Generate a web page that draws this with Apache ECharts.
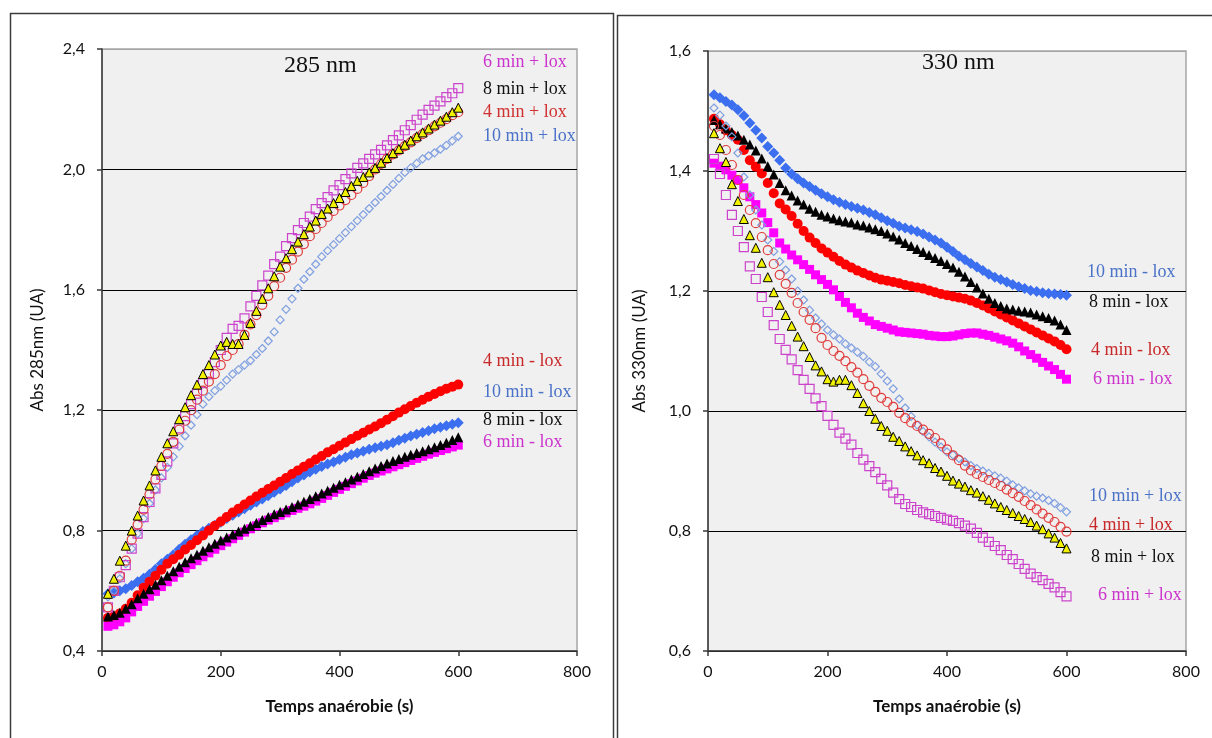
<!DOCTYPE html>
<html>
<head>
<meta charset="utf-8">
<script src="https://cdn.jsdelivr.net/npm/echarts@6/dist/echarts.min.js"></script>
<style>
html,body{margin:0;padding:0;background:#fff;}
#c{width:1212px;height:738px;}
</style>
</head>
<body>
<div id="c"></div>
<script>
// Time (s)
const times = [10,20,30,40,50,60,70,80,90,100,110,120,130,140,150,160,170,180,190,200,
  210,220,230,240,250,260,270,280,290,300,310,320,330,340,350,360,370,380,390,400,
  410,420,430,440,450,460,470,480,490,500,510,520,530,540,550,560,570,580,590,600];

const xTicks = [0,200,400,600,800];
const yTicksLeft = [0.4,0.8,1.2,1.6,2.0,2.4];
const yTicksRight = [0.6,0.8,1.0,1.2,1.4,1.6];

// ---- 285 nm panel ----
const L_plus6 = [0.545,0.60,0.645,0.685,0.74,0.79,0.845,0.895,0.94,0.985,
  1.03,1.09,1.14,1.18,1.22,1.255,1.29,1.32,1.36,1.40,
  1.44,1.47,1.48,1.505,1.545,1.58,1.615,1.647,1.685,1.71,
  1.745,1.772,1.798,1.822,1.843,1.868,1.888,1.908,1.93,1.948,
  1.968,1.987,2.005,2.02,2.035,2.05,2.065,2.08,2.097,2.113,
  2.13,2.147,2.165,2.182,2.198,2.212,2.226,2.24,2.253,2.27];
const L_plus8 = [0.59,0.64,0.70,0.75,0.80,0.85,0.90,0.95,1.00,1.045,
  1.09,1.13,1.17,1.21,1.25,1.285,1.32,1.35,1.385,1.415,
  1.427,1.42,1.42,1.45,1.49,1.53,1.57,1.605,1.645,1.677,
  1.705,1.735,1.76,1.785,1.81,1.83,1.852,1.87,1.888,1.905,
  1.925,1.945,1.962,1.975,1.99,2.005,2.022,2.038,2.054,2.068,
  2.082,2.096,2.11,2.123,2.136,2.149,2.162,2.175,2.19,2.205];
const L_plus4 = [0.545,0.60,0.65,0.70,0.77,0.82,0.87,0.92,0.97,1.015,
  1.055,1.095,1.135,1.165,1.20,1.235,1.265,1.295,1.32,1.35,
  1.38,1.40,1.42,1.45,1.485,1.516,1.55,1.58,1.612,1.64,
  1.673,1.70,1.727,1.752,1.778,1.802,1.822,1.842,1.862,1.88,
  1.898,1.915,1.935,1.955,1.978,2.0,2.018,2.035,2.05,2.063,
  2.077,2.09,2.104,2.117,2.13,2.143,2.155,2.167,2.18,2.19];
const L_plus10 = [0.58,0.60,0.64,0.69,0.74,0.79,0.84,0.89,0.935,0.975,
  1.01,1.045,1.08,1.115,1.15,1.185,1.22,1.245,1.265,1.28,
  1.30,1.32,1.335,1.35,1.365,1.385,1.405,1.43,1.46,1.50,
  1.535,1.57,1.605,1.635,1.66,1.685,1.71,1.73,1.75,1.77,
  1.79,1.81,1.83,1.85,1.87,1.89,1.91,1.93,1.95,1.97,
  1.99,2.005,2.02,2.035,2.045,2.055,2.067,2.08,2.095,2.11];
const L_minus4 = [0.51,0.515,0.525,0.54,0.56,0.585,0.61,0.63,0.65,0.67,
  0.69,0.705,0.72,0.737,0.752,0.768,0.784,0.80,0.816,0.83,
  0.845,0.86,0.873,0.887,0.90,0.913,0.926,0.938,0.95,0.962,
  0.975,0.988,1.0,1.012,1.024,1.036,1.048,1.06,1.07,1.082,
  1.093,1.104,1.115,1.125,1.136,1.146,1.157,1.168,1.18,1.192,
  1.203,1.214,1.225,1.235,1.245,1.254,1.263,1.271,1.278,1.285];
const L_minus10 = [0.59,0.593,0.60,0.607,0.618,0.63,0.642,0.655,0.672,0.69,
  0.705,0.72,0.738,0.755,0.77,0.784,0.797,0.808,0.818,0.828,
  0.84,0.851,0.862,0.873,0.884,0.895,0.905,0.916,0.927,0.938,
  0.95,0.962,0.975,0.985,0.995,1.004,1.013,1.021,1.028,1.036,
  1.044,1.052,1.058,1.064,1.07,1.075,1.08,1.085,1.092,1.10,
  1.107,1.114,1.12,1.126,1.132,1.138,1.143,1.148,1.153,1.158];
const L_minus8 = [0.515,0.52,0.527,0.54,0.555,0.575,0.59,0.605,0.62,0.635,
  0.65,0.665,0.68,0.695,0.708,0.72,0.733,0.745,0.756,0.767,
  0.777,0.787,0.797,0.806,0.815,0.825,0.835,0.845,0.854,0.862,
  0.87,0.878,0.887,0.896,0.905,0.914,0.923,0.932,0.942,0.952,
  0.961,0.97,0.979,0.988,0.997,1.006,1.015,1.023,1.031,1.038,
  1.045,1.052,1.058,1.064,1.07,1.077,1.084,1.092,1.101,1.11];
const L_minus6 = [0.482,0.487,0.497,0.51,0.53,0.548,0.565,0.582,0.598,0.614,
  0.63,0.645,0.66,0.674,0.687,0.70,0.713,0.726,0.738,0.75,
  0.762,0.773,0.784,0.795,0.806,0.816,0.826,0.835,0.843,0.851,
  0.859,0.867,0.874,0.881,0.889,0.898,0.907,0.917,0.927,0.937,
  0.947,0.956,0.965,0.974,0.983,0.991,0.998,1.005,1.012,1.019,
  1.026,1.033,1.04,1.047,1.054,1.06,1.066,1.072,1.078,1.084];

// ---- 330 nm panel ----
const R_minus10 = [1.527,1.522,1.516,1.51,1.502,1.492,1.48,1.468,1.455,1.441,
  1.43,1.418,1.405,1.395,1.387,1.38,1.374,1.368,1.362,1.357,
  1.352,1.348,1.344,1.341,1.338,1.335,1.331,1.327,1.322,1.317,
  1.313,1.308,1.305,1.302,1.299,1.295,1.29,1.285,1.28,1.273,
  1.266,1.258,1.252,1.246,1.24,1.234,1.228,1.223,1.219,1.215,
  1.211,1.207,1.204,1.201,1.199,1.197,1.196,1.195,1.194,1.193];
const R_minus8 = [1.485,1.478,1.471,1.465,1.459,1.452,1.444,1.434,1.421,1.408,
  1.394,1.38,1.368,1.359,1.351,1.344,1.337,1.332,1.327,1.324,
  1.321,1.318,1.316,1.314,1.311,1.309,1.306,1.303,1.30,1.296,
  1.291,1.286,1.28,1.275,1.27,1.265,1.26,1.255,1.25,1.245,
  1.239,1.232,1.224,1.215,1.206,1.196,1.187,1.18,1.175,1.171,
  1.169,1.167,1.166,1.164,1.161,1.158,1.155,1.151,1.144,1.135];
const R_minus4 = [1.487,1.478,1.468,1.46,1.452,1.435,1.418,1.407,1.396,1.38,
  1.363,1.346,1.336,1.325,1.312,1.30,1.289,1.28,1.271,1.264,
  1.257,1.25,1.244,1.239,1.234,1.23,1.226,1.222,1.219,1.217,
  1.215,1.213,1.21,1.208,1.206,1.204,1.201,1.198,1.195,1.193,
  1.191,1.189,1.187,1.184,1.18,1.176,1.171,1.166,1.161,1.156,
  1.151,1.146,1.141,1.136,1.131,1.126,1.121,1.116,1.11,1.103];
const R_minus6 = [1.413,1.408,1.402,1.393,1.385,1.372,1.357,1.344,1.33,1.314,
  1.297,1.28,1.27,1.26,1.252,1.244,1.236,1.227,1.219,1.211,
  1.202,1.191,1.181,1.172,1.163,1.156,1.15,1.144,1.141,1.138,
  1.135,1.132,1.131,1.13,1.129,1.128,1.126,1.125,1.124,1.124,
  1.125,1.127,1.129,1.13,1.13,1.128,1.126,1.123,1.12,1.117,
  1.113,1.107,1.10,1.094,1.088,1.081,1.075,1.069,1.061,1.053];
const R_plus10 = [1.505,1.493,1.475,1.457,1.43,1.39,1.36,1.335,1.31,1.285,
  1.266,1.249,1.235,1.22,1.20,1.185,1.168,1.155,1.145,1.135,
  1.127,1.12,1.112,1.105,1.098,1.091,1.082,1.074,1.062,1.05,
  1.037,1.02,1.005,0.991,0.977,0.966,0.957,0.948,0.94,0.932,
  0.927,0.921,0.915,0.909,0.904,0.90,0.896,0.892,0.888,0.883,
  0.877,0.872,0.867,0.862,0.858,0.855,0.851,0.846,0.839,0.832];
const R_plus4 = [1.475,1.46,1.435,1.41,1.385,1.36,1.335,1.313,1.29,1.268,
  1.245,1.227,1.212,1.197,1.18,1.165,1.152,1.138,1.122,1.11,
  1.10,1.092,1.083,1.073,1.064,1.053,1.042,1.032,1.022,1.015,
  1.007,0.997,0.988,0.981,0.975,0.969,0.962,0.955,0.946,0.936,
  0.926,0.918,0.909,0.901,0.895,0.89,0.885,0.88,0.875,0.869,
  0.863,0.857,0.85,0.843,0.836,0.829,0.822,0.815,0.807,0.799];
const R_plus8 = [1.463,1.438,1.415,1.378,1.35,1.32,1.293,1.272,1.247,1.223,
  1.198,1.177,1.16,1.142,1.124,1.108,1.09,1.076,1.066,1.053,
  1.049,1.052,1.052,1.043,1.03,1.013,1.0,0.987,0.975,0.967,
  0.957,0.95,0.941,0.933,0.926,0.918,0.913,0.905,0.899,0.892,
  0.884,0.879,0.874,0.868,0.864,0.858,0.852,0.846,0.84,0.835,
  0.83,0.825,0.82,0.815,0.809,0.803,0.796,0.789,0.78,0.771];
const R_plus6 = [1.42,1.395,1.36,1.327,1.30,1.273,1.241,1.22,1.19,1.165,
  1.143,1.12,1.102,1.086,1.068,1.052,1.037,1.021,1.008,0.992,
  0.977,0.964,0.954,0.944,0.93,0.919,0.908,0.898,0.887,0.876,
  0.864,0.853,0.845,0.84,0.835,0.831,0.828,0.825,0.822,0.819,
  0.817,0.813,0.809,0.804,0.797,0.789,0.782,0.775,0.768,0.76,
  0.753,0.745,0.737,0.729,0.723,0.718,0.712,0.706,0.698,0.691];

const titles = ['285 nm', '330 nm'];
const yNames = ['Abs 285nm (UA)', 'Abs 330nm (UA)'];
const xName = 'Temps anaérobie (s)';

// label annotations: [text, color]
const labelsLeft = [['6 min + lox','#cc33cc'],['8 min + lox','#111111'],['4 min + lox','#d03030'],['10 min + lox','#4a72c8'],
  ['4 min - lox','#c82828'],['10 min - lox','#4a72c8'],['8 min - lox','#111111'],['6 min - lox','#cc33cc']];
const labelsRight = [['10 min - lox','#4a72c8'],['8 min - lox','#111111'],['4 min - lox','#c82828'],['6 min - lox','#cc33cc'],
  ['10 min + lox','#4a72c8'],['4 min + lox','#c82828'],['8 min + lox','#111111'],['6 min + lox','#cc33cc']];

const pair = ys => times.map((t, i) => [t, ys[i]]);

const C = {
  red: '#ff0000', blue: '#3b6ff0', black: '#000000', mag: '#ff00ff',
  oMag: '#cc44cc', oRed: '#e03a3a', oBlue: '#7f9fe0', yellow: '#f2f200'
};

function filled(gi, ys, symbol, size, color) {
  return { type: 'scatter', xAxisIndex: gi, yAxisIndex: gi, data: pair(ys), symbol: symbol, symbolSize: size,
    itemStyle: { color: color, opacity: 1 }, silent: true };
}
function open(gi, ys, symbol, size, color) {
  return { type: 'scatter', xAxisIndex: gi, yAxisIndex: gi, data: pair(ys), symbol: symbol, symbolSize: size,
    itemStyle: { color: 'rgba(0,0,0,0)', borderColor: color, borderWidth: 1.2, opacity: 1 }, silent: true };
}
function tri(gi, ys, size) {
  return { type: 'scatter', xAxisIndex: gi, yAxisIndex: gi, data: pair(ys), symbol: 'triangle', symbolSize: size,
    itemStyle: { color: C.yellow, borderColor: '#000', borderWidth: 1, opacity: 1 }, silent: true };
}

const fmtY = v => v.toFixed(1).replace('.', ',');
const gridLines = ['#000','#000','#000','#000','#000','#a6a6a6'];
const yGaps = [56, 60];

function xAx(gi) {
  return { type: 'value', gridIndex: gi, min: xTicks[0], max: xTicks[xTicks.length-1], interval: xTicks[1]-xTicks[0],
    name: xName, nameLocation: 'middle', nameGap: 47,
    nameTextStyle: { fontFamily: 'Lato', fontSize: 17, fontWeight: 'bold', color: '#111' },
    axisLine: { show: true, lineStyle: { color: '#3a3a3a', width: 1.5 } },
    axisTick: { show: true, inside: false, length: 5, lineStyle: { color: '#3a3a3a', width: 1.5 } },
    axisLabel: { fontFamily: 'Lato', fontSize: 16, color: '#111', margin: 13 },
    splitLine: { show: false } };
}
function yAx(gi, ticks) {
  return { type: 'value', gridIndex: gi, min: ticks[0], max: ticks[ticks.length-1], interval: 0.2 * (gi === 0 ? 2 : 1),
    name: yNames[gi], nameLocation: 'middle', nameGap: yGaps[gi],
    nameTextStyle: { fontFamily: 'Lato', fontSize: 17, color: '#111' },
    axisLine: { show: true, lineStyle: { color: '#3a3a3a', width: 1.5 } },
    axisTick: { show: true, inside: false, length: 5, lineStyle: { color: '#3a3a3a', width: 1.5 } },
    axisLabel: { fontFamily: 'Lato', fontSize: 16, color: '#111', margin: 17, formatter: fmtY },
    splitLine: { show: true, lineStyle: { color: gridLines, width: 1 } } };
}

const labelGraphics = [];
const lyLeft = [63, 90, 113, 137, 362, 393, 421, 443];
const lyRight = [273, 303, 351, 380, 497, 526, 558, 596];
const lxRight = [1087, 1089, 1091, 1093, 1089, 1089, 1091, 1098];
labelsLeft.forEach((l, i) => labelGraphics.push({ type: 'text', left: 483, top: lyLeft[i] - 10,
  style: { text: l[0], fill: l[1], font: '18px "Liberation Serif"' }, z: 100 }));
labelsRight.forEach((l, i) => labelGraphics.push({ type: 'text', left: lxRight[i], top: lyRight[i] - 10,
  style: { text: l[0], fill: l[1], font: '18px "Liberation Serif"' }, z: 100 }));

const option = {
  animation: false,
  backgroundColor: '#ffffff',
  grid: [
    { left: 102, top: 49, width: 475, height: 602, show: true, backgroundColor: '#f0f0f0', borderColor: '#a6a6a6', borderWidth: 1.5 },
    { left: 708, top: 51, width: 478, height: 600, show: true, backgroundColor: '#f0f0f0', borderColor: '#a6a6a6', borderWidth: 1.5 }
  ],
  xAxis: [xAx(0), xAx(1)],
  yAxis: [yAx(0, yTicksLeft), yAx(1, yTicksRight)],
  series: [
    filled(0, L_minus10, 'diamond', 11, C.blue),
    filled(0, L_minus4, 'circle', 10, C.red),
    filled(0, L_minus6, 'rect', 9, C.mag),
    filled(0, L_minus8, 'triangle', 10, C.black),
    open(0, L_plus10, 'diamond', 8, C.oBlue),
    open(0, L_plus6, 'rect', 9, C.oMag),
    open(0, L_plus4, 'circle', 9, C.oRed),
    tri(0, L_plus8, 9),
    filled(1, R_minus10, 'diamond', 11, C.blue),
    filled(1, R_minus6, 'rect', 9, C.mag),
    filled(1, R_minus4, 'circle', 10, C.red),
    filled(1, R_minus8, 'triangle', 10, C.black),
    open(1, R_plus10, 'diamond', 8, C.oBlue),
    open(1, R_plus6, 'rect', 9, C.oMag),
    open(1, R_plus4, 'circle', 9, C.oRed),
    tri(1, R_plus8, 9)
  ],
  graphic: [
    { type: 'rect', shape: { x: 10.5, y: 13.5, width: 603, height: 740 }, style: { fill: 'none', stroke: '#3c3c3c', lineWidth: 1.5 }, z: 0, silent: true },
    { type: 'rect', shape: { x: 617.5, y: 15.5, width: 600, height: 740 }, style: { fill: 'none', stroke: '#3c3c3c', lineWidth: 1.5 }, z: 0, silent: true },
    { type: 'text', left: 284, top: 54, style: { text: titles[0], fill: '#111', font: '24px "Liberation Serif"' }, z: 100 },
    { type: 'text', left: 922, top: 51, style: { text: titles[1], fill: '#111', font: '24px "Liberation Serif"' }, z: 100 }
  ].concat(labelGraphics)
};

const chart = echarts.init(document.getElementById('c'), null, { renderer: 'canvas' });
chart.setOption(option);
</script>
</body>
</html>
